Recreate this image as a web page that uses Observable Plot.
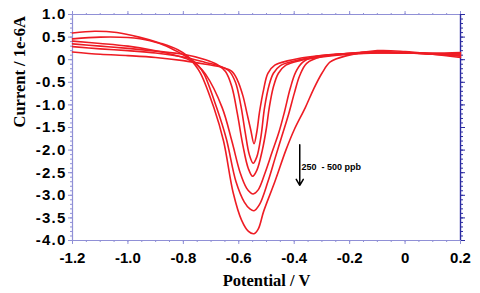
<!DOCTYPE html>
<html>
<head>
<meta charset="utf-8">
<script src="https://cdn.jsdelivr.net/npm/d3@7"></script>
<script src="https://cdn.jsdelivr.net/npm/@observablehq/plot@0.6"></script>
<style>
  html, body { margin: 0; padding: 0; background: #fff; }
  #chart { width: 480px; height: 293px; }
  svg { display: block; }
  g[aria-label="y-axis tick label"] text { letter-spacing: 1.2px; }
</style>
</head>
<body>
<div id="chart"></div>
<script>
// ---- Data ----
const curveNames = ["250 ppb", "300 ppb", "350 ppb", "400 ppb", "450 ppb", "500 ppb"];

const c1V = [-1.2, -1.1, -1.0, -0.9, -0.8, -0.72, -0.66, -0.625, -0.605, -0.585, -0.57, -0.557, -0.545, -0.535, -0.525, -0.51, -0.495, -0.47, -0.42, -0.35, -0.25, -0.1, 0.0, 0.1, 0.2];
const c1I = [0.17, 0.12, 0.09, 0.05, -0.02, -0.1, -0.17, -0.26, -0.45, -0.8, -1.2, -1.55, -1.86, -1.6, -1.15, -0.65, -0.3, -0.12, -0.02, 0.06, 0.12, 0.15, 0.15, 0.14, 0.16];

const c2V = [-1.2, -1.1, -1.0, -0.9, -0.8, -0.72, -0.67, -0.635, -0.612, -0.593, -0.577, -0.562, -0.548, -0.535, -0.52, -0.507, -0.49, -0.475, -0.45, -0.4, -0.3, -0.2, -0.1, 0.0, 0.1, 0.2];
const c2I = [0.29, 0.24, 0.2, 0.15, 0.06, -0.06, -0.14, -0.25, -0.5, -1.0, -1.6, -2.1, -2.29, -2.15, -1.7, -1.06, -0.55, -0.3, -0.13, -0.03, 0.08, 0.13, 0.16, 0.15, 0.13, 0.1];

const c3V = [-1.2, -1.1, -1.0, -0.9, -0.8, -0.72, -0.68, -0.648, -0.625, -0.605, -0.585, -0.566, -0.55, -0.535, -0.515, -0.50, -0.49, -0.475, -0.457, -0.43, -0.38, -0.3, -0.2, -0.1, 0.0, 0.1, 0.2];
const c3I = [0.35, 0.3, 0.25, 0.19, 0.12, 0.0, -0.1, -0.26, -0.6, -1.2, -1.9, -2.4, -2.58, -2.45, -2.0, -1.5, -1.06, -0.6, -0.3, -0.12, -0.02, 0.06, 0.12, 0.15, 0.15, 0.14, 0.14];

const c4V = [-1.2, -1.1, -1.0, -0.9, -0.83, -0.78, -0.75, -0.72, -0.66, -0.625, -0.595, -0.572, -0.558, -0.548, -0.53, -0.505, -0.48, -0.455, -0.435, -0.415, -0.395, -0.37, -0.33, -0.25, -0.15, -0.05, 0.05, 0.2];
const c4I = [0.41, 0.36, 0.3, 0.2, 0.1, 0.0, -0.12, -0.32, -1.06, -1.8, -2.5, -2.84, -2.94, -2.97, -2.88, -2.5, -2.05, -1.6, -1.15, -0.65, -0.28, -0.06, 0.06, 0.12, 0.16, 0.16, 0.14, 0.12];

const c5V = [-1.2, -1.1, -1.0, -0.92, -0.86, -0.81, -0.77, -0.745, -0.725, -0.68, -0.645, -0.61, -0.58, -0.56, -0.545, -0.525, -0.495, -0.47, -0.445, -0.42, -0.40, -0.38, -0.355, -0.3, -0.2, -0.1, 0.0, 0.1, 0.2];
const c5I = [0.46, 0.5, 0.49, 0.42, 0.3, 0.14, 0.0, -0.14, -0.32, -1.06, -1.75, -2.7, -3.15, -3.3, -3.34, -3.2, -2.7, -2.2, -1.7, -1.2, -0.75, -0.35, -0.08, 0.07, 0.14, 0.18, 0.16, 0.12, 0.08];

const c6V = [-1.2, -1.12, -1.04, -0.96, -0.88, -0.82, -0.785, -0.76, -0.738, -0.69, -0.655, -0.62, -0.59, -0.565, -0.545, -0.53, -0.51, -0.47, -0.43, -0.40, -0.36, -0.33, -0.30, -0.27, -0.21, -0.1, 0.0, 0.1, 0.2];
const c6I = [0.59, 0.63, 0.6, 0.5, 0.36, 0.22, 0.08, -0.1, -0.3, -1.06, -1.8, -2.95, -3.55, -3.8, -3.85, -3.75, -3.35, -2.7, -2.0, -1.55, -1.06, -0.65, -0.3, -0.05, 0.09, 0.2, 0.18, 0.12, 0.05];

const xTicks = [-1.2, -1.0, -0.8, -0.6, -0.4, -0.2, 0, 0.2];
const xTickLabels = ["-1.2", "-1.0", "-0.8", "-0.6", "-0.4", "-0.2", "0", "0.2"];
const yTicks = [1.0, 0.5, 0, -0.5, -1.0, -1.5, -2.0, -2.5, -3.0, -3.5, -4.0];
const yTickLabels = ["1.0", "0.5", "0", "-0.5", "-1.0", "-1.5", "-2.0", "-2.5", "-3.0", "-3.5", "-4.0"];

const arrowX = [-0.38];
const arrowYStart = [-1.88];
const arrowYEnd = [-2.78];
const noteText = ["250  - 500 ppb"];
const noteX = [-0.374];
const noteY = [-2.37];

// ---- Build table ----
const series = [[c1V, c1I], [c2V, c2I], [c3V, c3I], [c4V, c4I], [c5V, c5I], [c6V, c6I]];
const rows = [];
series.forEach(([vs, is], k) => vs.forEach((v, j) => rows.push({V: v, I: is[j], curve: curveNames[k]})));

const xMinor = d3.range(0, 29).map(i => -1.2 + i * 0.05);
const yMinor = d3.range(0, 51).map(i => -4.0 + i * 0.1);
const arrowRows = arrowX.map((x, i) => ({x, y1: arrowYStart[i], y2: arrowYEnd[i]}));
const noteRows = noteText.map((t, i) => ({t, x: noteX[i], y: noteY[i]}));

const lightAxis = "#9090d6";
const darkAxis = "#2a2aa0";
const red = "#ee1c24";
const tickFont = "Liberation Sans, Arial, sans-serif";
const serif = "Liberation Serif, Times New Roman, serif";
const fmtX = d => xTickLabels[xTicks.findIndex(t => Math.abs(t - d) < 1e-9)];
const fmtY = d => yTickLabels[yTicks.findIndex(t => Math.abs(t - d) < 1e-9)];
const blank = () => "";

const chart = Plot.plot({
  width: 480,
  height: 293,
  marginLeft: 72,
  marginRight: 20,
  marginTop: 14,
  marginBottom: 53,
  style: {fontFamily: tickFont, background: "#fff"},
  x: {domain: [-1.2, 0.2], axis: null},
  y: {domain: [-4, 1], axis: null},
  marks: [
    // minor ticks
    Plot.axisX(xMinor, {anchor: "bottom", tickSize: 2, tickFormat: blank, stroke: lightAxis, label: null}),
    Plot.axisX(xMinor, {anchor: "top", tickSize: 2, tickFormat: blank, stroke: lightAxis, label: null}),
    Plot.axisY(yMinor, {anchor: "left", tickSize: 2, tickFormat: blank, stroke: lightAxis, label: null}),
    Plot.axisY(yMinor, {anchor: "right", tickSize: 2, tickFormat: blank, stroke: darkAxis, label: null}),
    // major ticks + labels
    Plot.axisX(xTicks, {anchor: "bottom", tickSize: 4, tickPadding: 8, tickFormat: fmtX, stroke: lightAxis, fill: "#000",
      fontSize: 15, fontWeight: "bold", label: null}),
    Plot.axisX(xTicks, {anchor: "top", tickSize: 4, tickFormat: blank, stroke: lightAxis, label: null}),
    Plot.axisY(yTicks, {anchor: "left", tickSize: 4, tickPadding: 2, tickFormat: fmtY, stroke: lightAxis, fill: "#000",
      fontSize: 15, fontWeight: "bold", label: null}),
    Plot.axisY(yTicks, {anchor: "right", tickSize: 4, tickFormat: blank, stroke: darkAxis, label: null}),
    // frame
    Plot.ruleY([1], {stroke: lightAxis, strokeWidth: 1.2}),
    Plot.ruleY([-4], {stroke: lightAxis, strokeWidth: 1.2}),
    Plot.ruleX([-1.2], {stroke: lightAxis, strokeWidth: 1.2}),
    Plot.ruleX([0.2], {stroke: darkAxis, strokeWidth: 1.4}),
    // data
    Plot.line(rows, {x: "V", y: "I", z: "curve", stroke: red, strokeWidth: 1.6, curve: "catmull-rom"}),
    // annotation
    Plot.arrow(arrowRows, {x1: "x", x2: "x", y1: "y1", y2: "y2", stroke: "#000", strokeWidth: 1.5, headLength: 7}),
    Plot.text(noteRows, {x: "x", y: "y", text: "t", textAnchor: "start", fontSize: 9, fontWeight: "bold",
      fontFamily: tickFont, fill: "#000"}),
    // axis titles
    Plot.text(["Potential / V"], {frameAnchor: "bottom", dy: 45, fontSize: 16.5, fontWeight: "bold",
      fontFamily: serif, fill: "#000"}),
    Plot.text(["Current / 1e-6A"], {frameAnchor: "left", dx: -53, rotate: -90, fontSize: 16.5, fontWeight: "bold",
      fontFamily: serif, fill: "#000"})
  ]
});
document.getElementById("chart").appendChild(chart);
</script>
</body>
</html>
